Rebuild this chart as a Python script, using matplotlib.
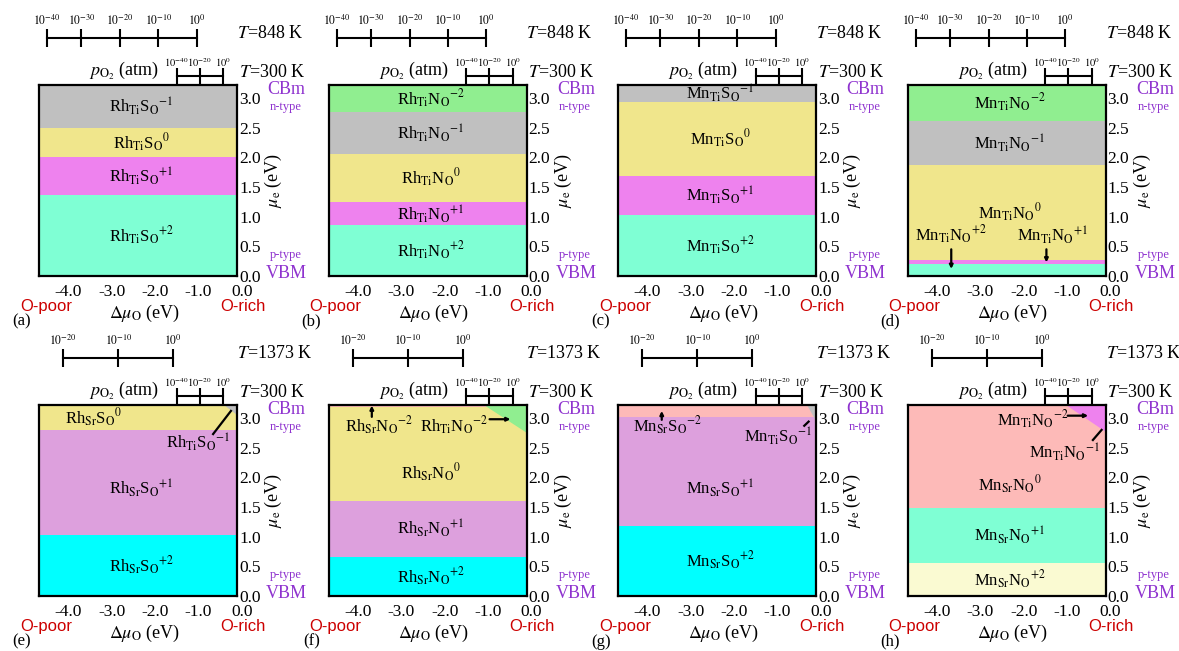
import matplotlib
matplotlib.use("Agg")
import matplotlib.pyplot as plt
import matplotlib.transforms as mtransforms
from matplotlib.patches import Polygon

plt.rcParams['font.family'] = 'Liberation Serif'
plt.rcParams['mathtext.fontset'] = 'stix'
plt.rcParams['axes.unicode_minus'] = False

# --------------------------------------------------
# DATA
# --------------------------------------------------

XMIN, XMAX = -4.55, 0.0
YMIN, YMAX = 0.0, 3.22
X_TICKS = [-4.0, -3.0, -2.0, -1.0, 0.0]
Y_TICKS = [0.0, 0.5, 1.0, 1.5, 2.0, 2.5, 3.0]

# oxygen partial pressure scales (exponent of pO2 -> delta mu_O)
P_EXP_848 = [-40, -30, -20, -10, 0]
MU_848 = [-4.37, -3.58, -2.69, -1.81, -0.93]
P_EXP_1373 = [-20, -10, 0]
MU_1373 = [-4.00, -2.73, -1.47]
P_EXP_300 = [-40, -20, 0]
MU_300 = [-1.39, -0.86, -0.32]

PANEL_TAGS = ['(a)', '(b)', '(c)', '(d)', '(e)', '(f)', '(g)', '(h)']
DEFECTS = [('Rh', 'Ti', 'S'), ('Rh', 'Ti', 'N'), ('Mn', 'Ti', 'S'), ('Mn', 'Ti', 'N'),
           ('Rh', 'Sr', 'S'), ('Rh', 'Sr', 'N'), ('Mn', 'Sr', 'S'), ('Mn', 'Sr', 'N')]

# transition levels (mu_e, eV), bottom to top
EDGES = [
    [0.0, 1.37, 2.01, 2.49, 3.22],
    [0.0, 0.86, 1.24, 2.06, 2.77, 3.22],
    [0.0, 1.03, 1.69, 2.93, 3.22],
    [0.0, 0.20, 0.27, 1.87, 2.62, 3.22],
    [0.0, 1.03, 2.80, 3.22],
    [0.0, 0.66, 1.61, 3.19, 3.22],
    [0.0, 1.18, 3.02, 3.22],
    [0.0, 0.55, 1.49, 3.22],
]
CHARGES = [
    ['+2', '+1', '0', '-1'],
    ['+2', '+1', '0', '-1', '-2'],
    ['+2', '+1', '0', '-1'],
    ['+2', '+1', '0', '-1', '-2'],
    ['+2', '+1', '0'],
    ['+2', '+1', '0', '-2'],
    ['+2', '+1', '-2'],
    ['+2', '+1', '0'],
]
PINK = '#FDBAB8'
COLORS = [
    ['aquamarine', 'violet', 'khaki', 'silver'],
    ['aquamarine', 'violet', 'khaki', 'silver', 'lightgreen'],
    ['aquamarine', 'violet', 'khaki', 'silver'],
    ['aquamarine', 'violet', 'khaki', 'silver', 'lightgreen'],
    ['cyan', 'plum', 'khaki'],
    ['cyan', 'plum', 'khaki', PINK],
    ['cyan', 'plum', PINK],
    ['lightgoldenrodyellow', 'aquamarine', PINK],
]

# Ti-site defect corners at O-rich / n-type: panel -> (mu_O at top, mu_e at right edge, colour)
CORNERS = {4: (-0.30, 3.05, 'silver'), 5: (-0.98, 2.74, 'lightgreen'),
           6: (-0.20, 2.95, 'silver'), 7: (-0.90, 2.77, 'violet')}

# label placement overrides: (panel, band) -> (x, y) or None (labelled by pointer)
LABEL_POS = {(3, 0): None, (3, 1): None, (4, 1): (-2.2, 1.82), (4, 2): (-3.31, 3.0),
             (5, 2): (-2.2, 2.07), (5, 3): None, (6, 1): (-2.2, 1.82), (6, 2): None,
             (7, 2): (-2.2, 1.87)}

# pointer labels: panel, defect, charge, text xy, line start, line end, arrow
POINTERS = [
    (3, ('Mn', 'Ti', 'N'), '+2', (-3.55, 0.69), (-3.55, 0.45), (-3.55, 0.12), True),
    (3, ('Mn', 'Ti', 'N'), '+1', (-1.22, 0.69), (-1.36, 0.45), (-1.36, 0.23), True),
    (4, ('Rh', 'Ti', 'S'), '-1', (-0.89, 2.59), (-0.55, 2.73), (-0.14, 3.12), False),
    (5, ('Rh', 'Sr', 'N'), '-2', (-3.39, 2.87), (-3.56, 3.02), (-3.56, 3.21), True),
    (5, ('Rh', 'Ti', 'N'), '-2', (-1.67, 2.87), (-0.85, 2.98), (-0.37, 2.98), True),
    (6, ('Mn', 'Sr', 'S'), '-2', (-3.42, 2.87), (-3.55, 2.97), (-3.55, 3.12), True),
    (6, ('Mn', 'Ti', 'S'), '-1', (-0.87, 2.69), (-0.27, 2.87), (-0.17, 2.94), False),
    (7, ('Mn', 'Ti', 'N'), '-2', (-1.67, 2.97), (-0.87, 3.04), (-0.40, 3.04), True),
    (7, ('Mn', 'Ti', 'N'), '-1', (-0.94, 2.43), (-0.29, 2.63), (-0.09, 2.80), False),
]

PURPLE = '#8F33CF'
RED = '#CC0000'
LABEL_SIZE = 12


def defect_label(d, q):
    m, site, x = d
    return m + r'$_{\rm ' + site + r'}$' + x + r'$_{\rm O}$' + r'$^{' + q + r'}$'


# --------------------------------------------------
# FIGURE
# --------------------------------------------------

fig = plt.figure(figsize=(11.79, 6.51), dpi=100)
W, H = 1179.0, 651.0

for i in range(8):
    row, col = divmod(i, 4)
    left = 39.3 + 289.5 * col
    top = 85.0 + 320.0 * row
    ax = fig.add_axes([left / W, 1 - (top + 191.0) / H, 197.7 / W, 191.0 / H])
    ax.set_xlim(XMIN, XMAX)
    ax.set_ylim(YMIN, YMAX)

    edges = EDGES[i]
    for j, q in enumerate(CHARGES[i]):
        lo, hi = edges[j], edges[j + 1]
        ax.fill_between([XMIN, XMAX], lo, hi, color=COLORS[i][j], lw=0)
        pos = LABEL_POS.get((i, j), (-2.2, 0.5 * (lo + hi)))
        if pos is not None:
            ax.text(pos[0], pos[1], defect_label(DEFECTS[i], q), ha='center',
                    va='center', fontsize=LABEL_SIZE)

    if i in CORNERS:
        xt, yr, c = CORNERS[i]
        ax.add_patch(Polygon([[xt, YMAX], [XMAX, YMAX], [XMAX, yr]], closed=True,
                             color=c, lw=0))

    for p, d, q, txy, p0, p1, arrow in POINTERS:
        if p != i:
            continue
        ax.text(txy[0], txy[1], defect_label(d, q), ha='center', va='center',
                fontsize=LABEL_SIZE)
        if arrow:
            ax.annotate('', xy=p1, xytext=p0,
                        arrowprops=dict(arrowstyle='-|>', color='k', lw=1.6,
                                        mutation_scale=5, shrinkA=0, shrinkB=0))
        else:
            ax.plot([p0[0], p1[0]], [p0[1], p1[1]], color='k', lw=1.6)

    for s in ax.spines.values():
        s.set_linewidth(1.6)

    ax.set_xticks(X_TICKS)
    ax.set_xticklabels(['%.1f' % v for v in X_TICKS])
    ax.set_yticks(Y_TICKS)
    ax.set_yticklabels(['%.1f' % v for v in Y_TICKS])
    ax.yaxis.tick_right()
    ax.tick_params(axis='x', length=0, pad=6, labelsize=12.5)
    ax.tick_params(axis='y', length=0, pad=1.5, labelsize=12.5)
    shift = mtransforms.ScaledTranslation(5 / 100, 0, fig.dpi_scale_trans)
    for lbl in ax.get_xticklabels():
        lbl.set_transform(lbl.get_transform() + shift)

    ax.text(1.185, 0.5, r'$\mu_{\rm e}$ (eV)', rotation=90, ha='center', va='center',
            fontsize=13, transform=ax.transAxes)
    ax.text(0.53, -0.195, r'$\Delta\mu_{\rm O}$ (eV)', ha='center', va='center',
            fontsize=13, transform=ax.transAxes)
    ax.text(0.034, -0.162, 'O-poor', ha='center', va='center', color=RED,
            fontsize=12, family='Liberation Sans', transform=ax.transAxes)
    ax.text(1.03, -0.162, 'O-rich', ha='center', va='center', color=RED,
            fontsize=12, family='Liberation Sans', transform=ax.transAxes)
    ax.text(-0.088, -0.24, PANEL_TAGS[i], ha='center', va='center', fontsize=12,
            transform=ax.transAxes)

    ax.text(1.25, 0.975, 'CBm', ha='center', va='center', color=PURPLE, fontsize=13,
            transform=ax.transAxes)
    ax.text(1.245, 0.885, 'n-type', ha='center', va='center', color=PURPLE, fontsize=9,
            transform=ax.transAxes)
    ax.text(1.245, 0.11, 'p-type', ha='center', va='center', color=PURPLE, fontsize=9,
            transform=ax.transAxes)
    ax.text(1.25, 0.012, 'VBM', ha='center', va='center', color=PURPLE, fontsize=13,
            transform=ax.transAxes)

    # pO2 scales above the box
    trans = mtransforms.blended_transform_factory(ax.transData, ax.transAxes)
    if row == 0:
        exps, mus, tlabel = P_EXP_848, MU_848, r'$T$=848 K'
    else:
        exps, mus, tlabel = P_EXP_1373, MU_1373, r'$T$=1373 K'
    for e_list, m_list, yb, yl, ms, fs in [(exps, mus, 1.246, 1.335, 13, 8.5),
                                            (P_EXP_300, MU_300, 1.047, 1.12, 11, 7.5)]:
        ax.plot(m_list, [yb] * len(m_list), color='k', lw=1.5, transform=trans,
                clip_on=False)
        ax.plot(m_list, [yb] * len(m_list), ls='none', marker='|', ms=ms, mew=1.5,
                color='k', transform=trans, clip_on=False)
        for e, m in zip(e_list, m_list):
            ax.text(m, yl, r'$10^{' + str(e) + r'}$', ha='center', va='center',
                    fontsize=fs, transform=trans)
    ax.text(1.0, 1.272, tlabel, ha='left', va='center', fontsize=13,
            transform=ax.transAxes)
    ax.text(1.01, 1.068, r'$T$=300 K', ha='left', va='center', fontsize=13,
            transform=ax.transAxes)
    ax.text(0.43, 1.075, r'$p_{{\rm O}_2}$ (atm)', ha='center', va='center',
            fontsize=13, transform=ax.transAxes)

fig.savefig('out.png', dpi=100)
plt.close(fig)
